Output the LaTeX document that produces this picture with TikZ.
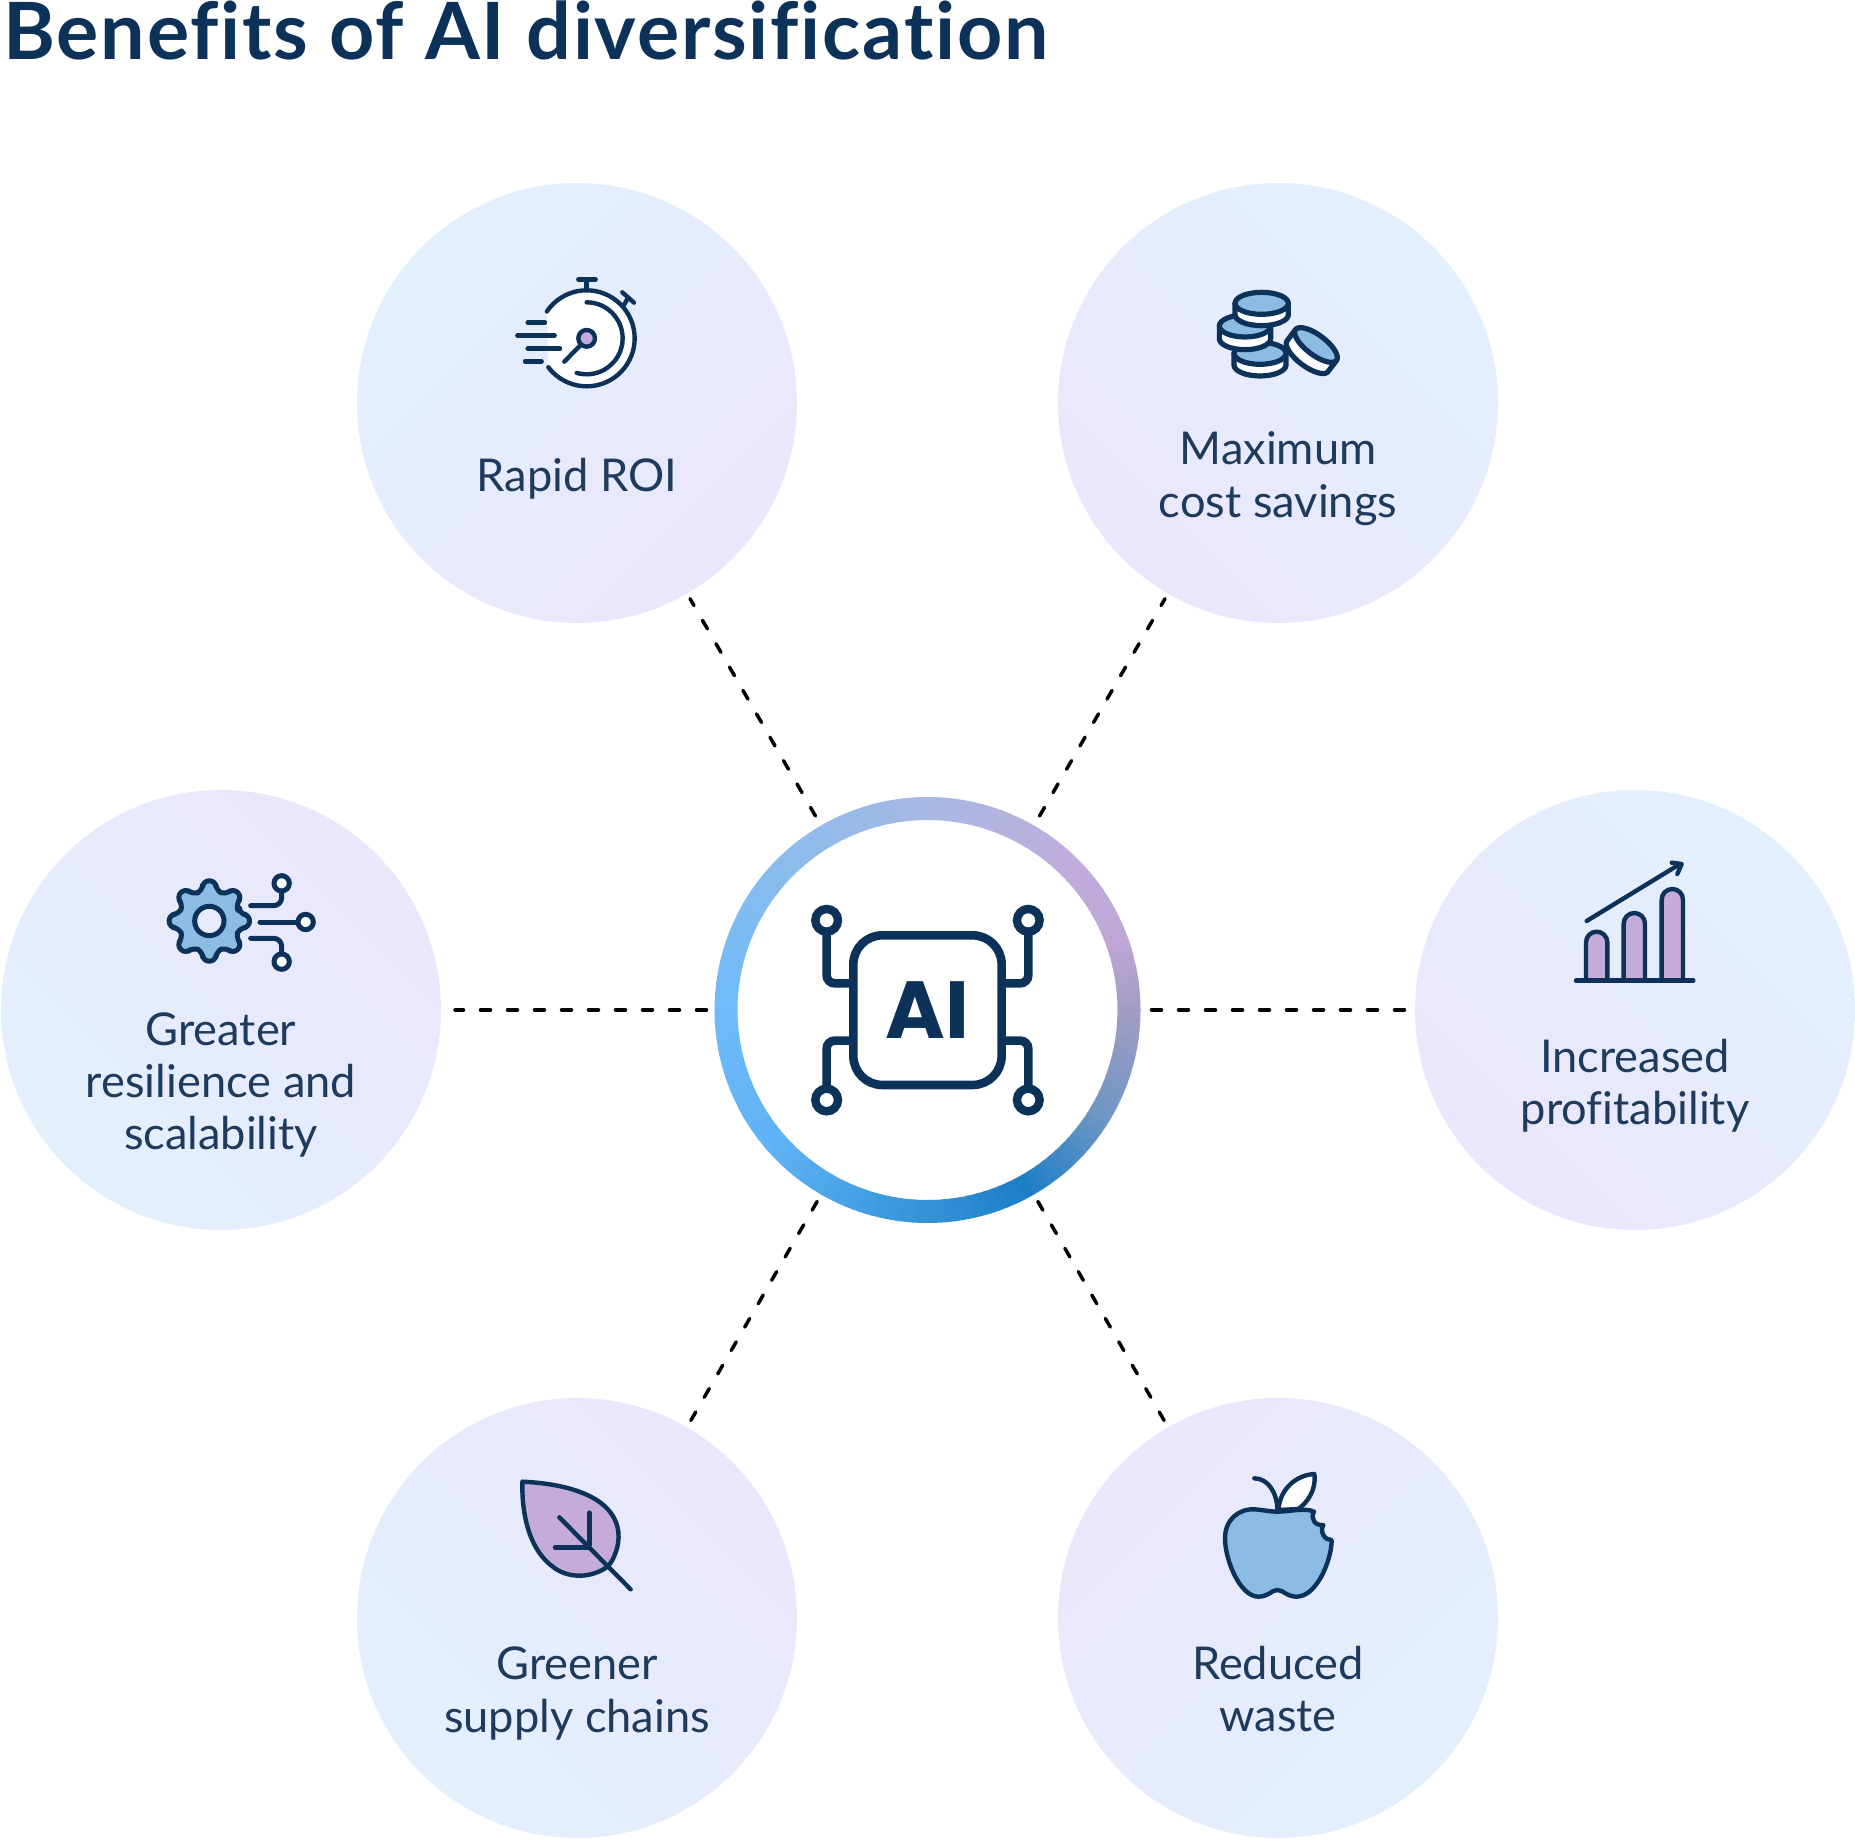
\documentclass[tikz,border=0pt]{standalone}
\usepackage{fontspec}
\setmainfont{Lato}[Ligatures={NoCommon,NoRare,NoDiscretionary}]
\newfontfamily\titlefont{Lato}[Ligatures={NoCommon,NoRare,NoDiscretionary}, LetterSpace=2.3]
\newfontfamily\hubfont{Poppins}
\definecolor{aznavy}{HTML}{0D3259}
\definecolor{aztext}{HTML}{1E3A5C}
\definecolor{azsky}{HTML}{E2F0FE}
\definecolor{azlav}{HTML}{EBE6FB}
\definecolor{azblue}{HTML}{8CBBE4}
\definecolor{azlilac}{HTML}{C4ABD9}
\definecolor{ringa}{HTML}{70BBFA}
\definecolor{ringb}{HTML}{8BBCEB}
\definecolor{ringc}{HTML}{A9B8E3}
\definecolor{ringd}{HTML}{C1ACDD}
\definecolor{ringe}{HTML}{BFA6D6}
\definecolor{ringf}{HTML}{A09CC4}
\definecolor{ringg}{HTML}{6F96C4}
\definecolor{ringh}{HTML}{1C7EC5}
\definecolor{ringi}{HTML}{3593D8}
\definecolor{ringj}{HTML}{5FB2F4}
\usetikzlibrary{arrows.meta, calc}
\tikzset{
  benefit/.style={circle, minimum size=220pt, inner sep=0pt, outer sep=0pt,
    top color=azsky, bottom color=azlav, shading angle=#1},
  benefit label/.style={font=\fontsize{22.6}{26.2}\selectfont, text=aztext, align=center},
  link/.style={black, line width=1.75pt, line cap=round, dash pattern=on 5pt off 8.5pt,
    shorten <=5.5pt, shorten >=3pt},
  icon/.style={aznavy, line width=2.2pt, line cap=round, line join=round},
  pin/.style={aznavy, line width=4.2pt, fill=white},
  chip/.style={aznavy, line width=4.3pt},
}
\newcommand{\coinstack}[5]{%
  \draw[icon, fill=white] (#1-#3,#2) -- (#1-#3,#2+#5)
    arc[start angle=180, end angle=0, x radius=#3, y radius=#4] -- (#1+#3,#2) -- cycle;
  \draw[icon, fill=azblue] (#1,#2) ellipse [x radius=#3, y radius=#4];
}
\begin{document}
\begin{tikzpicture}[x=0.5pt, y=-0.5pt]
  \useasboundingbox (0,0) rectangle (1855,1839);
  \node[font=\titlefont\fontsize{39.5}{48}\selectfont\bfseries, text=aznavy, anchor=base west, inner sep=0pt]
        (title) at (3,60) {Benefits of AI diversification};

  % ---- benefit circles ----
  \node[benefit=45]   (roi)     at (577,403)   {};
  \node[benefit=-45]  (savings) at (1278,403)  {};
  \node[benefit=135]  (scaling) at (221,1010)  {};
  \node[benefit=-45]  (profit)  at (1635,1010) {};
  \node[benefit=135]  (supply)  at (577,1618)  {};
  \node[benefit=-135] (waste)   at (1278,1618) {};

  % ---- hub ----
  \node[circle, minimum size=213pt, inner sep=0pt, outer sep=0pt,
        font=\hubfont\fontsize{40.5}{40.5}\selectfont\bfseries, text=aznavy]
        (hub) at (927.5,1010) {AI};
  % hub ring, conic colours in short arcs
  \foreach \sa/\sb/\ca/\cb in {-180/-135/ringa/ringb, -135/-90/ringb/ringc, -90/-45/ringc/ringd,
      -45/-20/ringd/ringe, -20/0/ringe/ringf, 0/30/ringf/ringg, 30/60/ringg/ringh,
      60/90/ringh/ringi, 90/135/ringi/ringj, 135/180/ringj/ringa}{
    \foreach \k in {0,...,11}{
      \pgfmathsetmacro\anga{\sa+(\sb-\sa)*\k/12}
      \pgfmathsetmacro\angb{\sa+(\sb-\sa)*(\k+1)/12+0.4}
      \pgfmathsetmacro\mixv{100*\k/12}
      \draw[line width=11.5pt, color=\cb!\mixv!\ca]
            (hub.center) ++(\anga:201.5) arc[start angle=\anga, end angle=\angb, radius=201.5];
    }
  }

  % ---- connectors ----
  \draw[link] (hub) -- (roi);
  \draw[link] (hub) -- (savings);
  \draw[link, shorten >=7pt, shorten <=4pt] (hub) -- (scaling);
  \draw[link] (hub) -- (profit);
  \draw[link, shorten >=4pt, shorten <=4pt] (hub) -- (supply);
  \draw[link, shorten >=4pt, shorten <=4pt] (hub) -- (waste);

  % ---- labels ----
  \node[benefit label] (roitext)     at (577,479)    {Rapid ROI};
  \node[benefit label] (savingstext) at (1278,478.5) {Maximum\\cost savings};
  \node[benefit label] (scalingtext) at (221,1085)   {Greater\\resilience and\\scalability};
  \node[benefit label] (profittext)  at (1635,1085.5) {Increased\\profitability};
  \node[benefit label] (supplytext)  at (577,1693.5) {Greener\\supply chains};
  \node[benefit label] (wastetext)   at (1278,1689)  {Reduced\\waste};

  % ---- stopwatch ----
  \begin{scope}[shift={(480,250)}, scale=0.3333]
    \fill[white] (320,265) ++(-146:144) arc[start angle=-146, end angle=143, radius=144] -- cycle;
    \draw[icon] (320,265) ++(-146:144) arc[start angle=-146, end angle=143, radius=144];
    \draw[icon] (320,265) ++(-90:108) arc[start angle=-90, end angle=106, radius=108];
    \draw[icon] (320,118) -- (320,90) (295,88) -- (347,88);
    \draw[icon] (432,165) -- (445,142) (427,127) -- (462,158);
    \draw[icon] (143,218) -- (195,218) (112,257) -- (224,257);
    \draw[icon] (143,296) -- (240,296) (135,334) -- (185,334);
    \draw[icon] (253,335) -- (300,287);
    \draw[icon, fill=azlilac] (320,265) circle (25);
  \end{scope}

  % ---- coins ----
  \begin{scope}[shift={(1190,270)}, scale=0.3333, icon/.append style={line width=2.6pt}]
    \coinstack{210}{250}{78}{33}{35}
    \coinstack{165}{168}{77}{33}{38}
    \coinstack{215}{100}{80}{33}{34}
    \begin{scope}[shift={(378,225)}, rotate=-37]
      \coinstack{0}{0}{77}{30}{42}
    \end{scope}
  \end{scope}

  % ---- gear ----
  \begin{scope}[shift={(150,860)}, scale=0.3333, icon/.append style={line width=2.5pt}]
    \draw[icon, fill=azblue, rounded corners=3pt]
          ($(178,183)+(-13:93)$) \foreach \a in {0,45,...,315}{
            -- ($(178,183)+(\a-13:93)$) -- ($(178,183)+(\a-9:122)$)
            -- ($(178,183)+(\a+9:122)$) -- ($(178,183)+(\a+13:93)$)} -- cycle;
    \draw[icon, fill=azlav!60!azsky] (178,183) circle (44);
    \draw[icon, rounded corners=4pt] (302,137) -- (395,137) -- (395,95);
    \draw[icon] (330,186) -- (445,186);
    \draw[icon, rounded corners=4pt] (302,235) -- (395,235) -- (395,282);
    \draw[icon, fill=white] (395,70) circle (23);
    \draw[icon, fill=white] (467,186) circle (23);
    \draw[icon, fill=white] (395,305) circle (23);
  \end{scope}

  % ---- chart ----
  \begin{scope}[shift={(1550,850)}, scale=0.3333]
    \foreach \bx/\by in {140/277, 253/221, 367/149}{
      \draw[icon, fill=azlilac] (\bx-32,392) -- (\bx-32,\by)
            arc[start angle=180, end angle=360, radius=32] -- (\bx+32,392);
    }
    \draw[icon] (78,392) -- (430,392);
    \draw[icon] (110,213) -- (390,42);
    \draw[icon] (365,38) -- (395,42) -- (382,72);
  \end{scope}

  % ---- leaf ----
  \begin{scope}[shift={(500,1460)}, scale=0.3333]
    \draw[icon, fill=azlilac] (67,65) .. controls (180,70) and (340,100) .. (355,215)
          .. controls (360,260) and (340,300) .. (325,318)
          .. controls (285,350) and (215,360) .. (165,325)
          .. controls (90,275) and (65,170) .. (67,65) -- cycle;
    \draw[icon] (178,172) -- (392,388);
    \draw[icon] (268,158) -- (268,255);
    \draw[icon] (165,262) -- (268,262);
  \end{scope}

  % ---- apple ----
  \begin{scope}[shift={(1200,1460)}, scale=0.3333]
    \draw[icon, fill=white] (235,150) .. controls (240,85) and (290,45) .. (343,42)
          .. controls (350,90) and (320,130) .. (295,147) -- cycle;
    \draw[icon] (232,150) .. controls (232,100) and (205,55) .. (163,55);
    \draw[icon, fill=azblue] (232,155) .. controls (270,155) and (315,142) .. (342,155)
          .. controls (330,175) and (345,198) .. (370,195)
          .. controls (358,215) and (375,242) .. (395,240)
          .. controls (395,300) and (350,410) .. (290,410)
          .. controls (260,410) and (250,390) .. (232,390)
          .. controls (215,390) and (205,410) .. (175,410)
          .. controls (120,410) and (75,300) .. (75,235)
          .. controls (75,180) and (115,145) .. (165,148)
          .. controls (190,150) and (210,155) .. (232,155) -- cycle;
  \end{scope}

  % ---- chip ----
  \begin{scope}[shift={(700,780)}, scale=0.3333]
    \draw[chip, rounded corners=14.5pt] (460,466) rectangle (905,915);
    \draw[chip, rounded corners=4pt] (380,450) -- (380,610) -- (450,610);
    \draw[chip, rounded corners=4pt] (380,930) -- (380,782) -- (450,782);
    \draw[chip, rounded corners=4pt] (985,450) -- (985,610) -- (915,610);
    \draw[chip, rounded corners=4pt] (985,930) -- (985,782) -- (915,782);
    \draw[pin] (380,421) circle (34);
    \draw[pin] (985,421) circle (34);
    \draw[pin] (380,960) circle (34);
    \draw[pin] (985,960) circle (34);
  \end{scope}
\end{tikzpicture}
\end{document}
